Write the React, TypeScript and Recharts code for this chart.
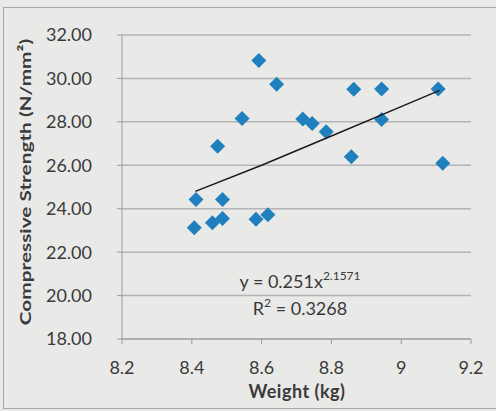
import React from 'react';
import { ScatterChart, Scatter, XAxis, YAxis, CartesianGrid, Customized } from 'recharts';

const weights = [8.592, 8.643, 8.864, 8.944, 9.106, 8.544, 8.718, 8.745, 8.785, 8.944, 8.474, 8.857, 9.119, 8.412, 8.488, 8.407, 8.459, 8.488, 8.584, 8.618];
const strengths = [30.82, 29.73, 29.5, 29.51, 29.51, 28.16, 28.13, 27.93, 27.54, 28.11, 26.88, 26.39, 26.09, 24.43, 24.43, 23.12, 23.35, 23.55, 23.52, 23.72];

const trendWeights = [8.41, 8.6, 8.8, 9.0, 9.11];
const trendStrengths = [24.8, 26.0, 27.35, 28.7, 29.45];

const xTicks = [8.2, 8.4, 8.6, 8.8, 9, 9.2];
const yTicks = [18, 20, 22, 24, 26, 28, 30, 32];

const points = weights.map((w, i) => ({ x: w, y: strengths[i] }));
const trend = trendWeights.map((w, i) => ({ x: w, y: trendStrengths[i] }));

const FONT = 'Lato, "Open Sans", sans-serif';
const TEXT = '#3a3a3a';

const Diamond = (props: any) => {
  const { cx, cy } = props;
  const r = 7.5;
  return (
    <polygon
      points={`${cx},${cy - r} ${cx + r},${cy} ${cx},${cy + r} ${cx - r},${cy}`}
      fill="#1f80bd"
    />
  );
};

const Empty = () => <g />;

const Annotations = () => (
  <g fontFamily={FONT} fill={TEXT}>
    <text x={300} y={288} fontSize={18} textAnchor="middle">
      y = 0.251x<tspan fontSize={12} dy={-8}>2.1571</tspan>
    </text>
    <text x={300} y={315} fontSize={18} textAnchor="middle">
      R<tspan fontSize={12} dy={-8}>2</tspan><tspan dy={8}> = 0.3268</tspan>
    </text>
    <text x={297} y={398} fontSize={18} fontWeight="bold" textAnchor="middle" letterSpacing={0.5}>
      Weight (kg)
    </text>
    <text
      x={0}
      y={0}
      fontSize={16}
      fontWeight="bold"
      textAnchor="middle"
      transform="translate(27,182) rotate(-90) scale(1.3,1)"
      dominantBaseline="middle"
    >
      Compressive Strength (N/mm²)
    </text>
  </g>
);

export default function App() {
  return (
    <div style={{ position: 'absolute', left: 0, top: 0, width: 496, height: 411, background: '#e9e9e8', overflow: 'hidden' }}>
      <div style={{ position: 'absolute', left: 3, top: 7, width: 520, height: 400, border: '1px solid #a8a8a8' }} />
      <div style={{ position: 'absolute', left: 0, top: 0 }}>
        <ScatterChart width={496} height={411} margin={{ top: 35, right: 25, bottom: 42, left: 52 }}>
          <CartesianGrid horizontal={true} vertical={false} stroke="#b4b4b4" strokeWidth={1.5} />
          <XAxis
            type="number"
            dataKey="x"
            domain={[8.2, 9.2]}
            ticks={xTicks}
            tickFormatter={(v: number) => String(v)}
            stroke="#9a9a9a"
            height={30}
            tickSize={5}
            tickMargin={17}
            tick={{ fill: TEXT, fontSize: 18, fontFamily: FONT }}
            interval={0}
            allowDataOverflow
          />
          <YAxis
            type="number"
            dataKey="y"
            domain={[18, 32]}
            ticks={yTicks}
            tickFormatter={(v: number) => v.toFixed(2)}
            width={70}
            stroke="#9a9a9a"
            tickSize={5}
            tickMargin={25}
            tick={{ fill: TEXT, fontSize: 18, fontFamily: FONT }}
            interval={0}
            allowDataOverflow
          />
          <Scatter data={points} shape={Diamond} isAnimationActive={false} />
          <Scatter
            data={trend}
            line={{ stroke: '#1a1a1a', strokeWidth: 1.5 }}
            lineType="joint"
            shape={Empty}
            isAnimationActive={false}
          />
          <Customized component={Annotations} />
        </ScatterChart>
      </div>
    </div>
  );
}
